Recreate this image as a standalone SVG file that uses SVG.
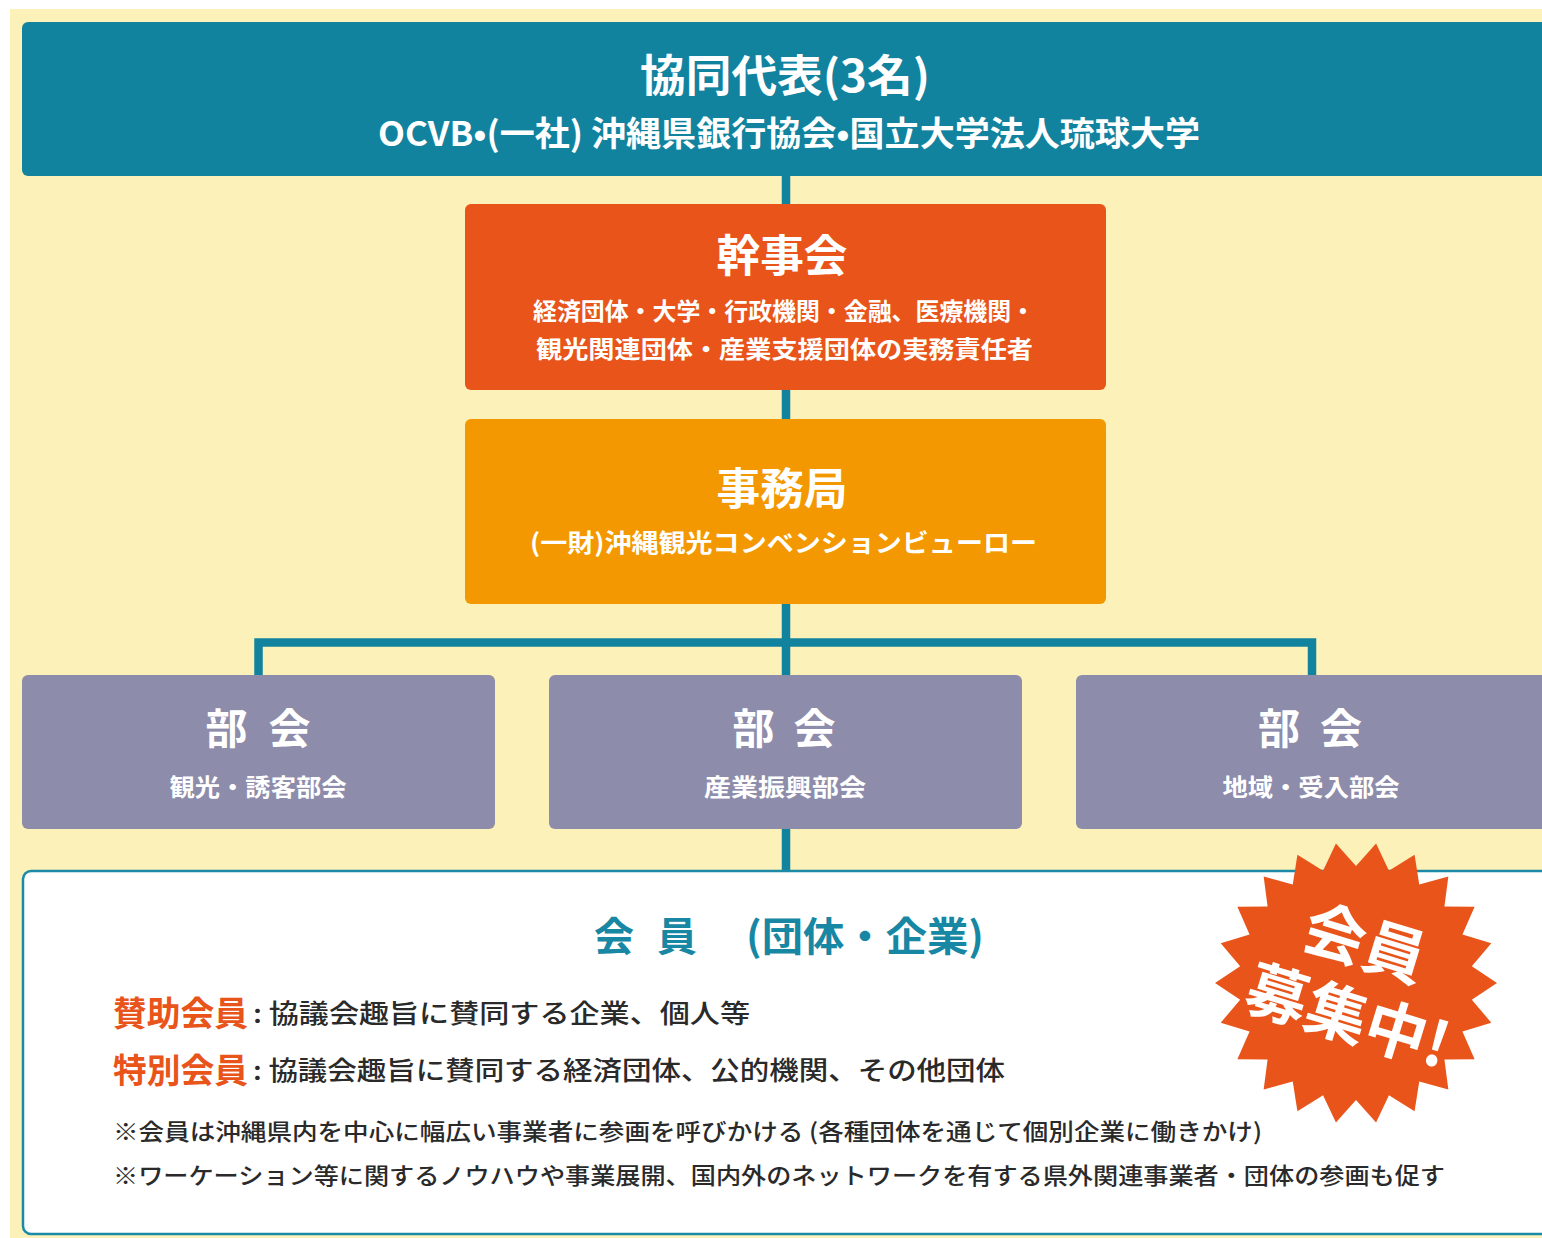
<svg xmlns="http://www.w3.org/2000/svg" width="1542" height="1238" viewBox="0 0 1542 1238">
  <style>
    .jp { font-family: "Noto Sans CJK JP", "Noto Sans", sans-serif; }
    .w { fill: #ffffff; font-weight: 700; }
    .h1 { font-size: 44px; }
    .sub { font-size: 24px; }
    .bk { font-size: 42px; }
    .conn { stroke: #11839F; stroke-width: 8.5; fill: none; stroke-linejoin: miter; stroke-linecap: butt; }
    .body { fill: #2a2a2a; font-weight: 500; }
    .lbl { fill: #E8541A; font-weight: 700; font-size: 34px; }
  </style>

  <rect x="0" y="0" width="1542" height="1238" fill="#ffffff"/>
  <rect x="10" y="9" width="1532" height="1229" fill="#FCF1B8"/>

  <g id="connectors">
    <line class="conn" x1="786" y1="175" x2="786" y2="205"/>
    <line class="conn" x1="786" y1="389" x2="786" y2="420"/>
    <line class="conn" x1="786" y1="603" x2="786" y2="676"/>
    <path class="conn" d="M258.5,676 V642.5 H1312 V676"/>
    <line class="conn" x1="786" y1="828" x2="786" y2="872"/>
  </g>

  <g id="node-representatives">
    <rect x="22" y="22" width="1540" height="154" rx="6" fill="#11839F"/>
    <text class="jp w h1" x="785" y="92" text-anchor="middle" textLength="290" lengthAdjust="spacingAndGlyphs">協同代表(3名)</text>
    <text class="jp w" x="789" y="146" font-size="34" text-anchor="middle" textLength="822" lengthAdjust="spacingAndGlyphs">OCVB•(一社) 沖縄県銀行協会•国立大学法人琉球大学</text>
  </g>

  <g id="node-kanjikai">
    <rect x="465" y="204" width="641" height="186" rx="6" fill="#E8541A"/>
    <text class="jp w h1" x="782" y="272" text-anchor="middle" textLength="131" lengthAdjust="spacingAndGlyphs">幹事会</text>
    <text class="jp w sub" x="784" y="320" text-anchor="middle" textLength="502" lengthAdjust="spacingAndGlyphs">経済団体・大学・行政機関・金融、医療機関・</text>
    <text class="jp w sub" x="784.5" y="358" text-anchor="middle" textLength="497" lengthAdjust="spacingAndGlyphs">観光関連団体・産業支援団体の実務責任者</text>
  </g>

  <g id="node-jimukyoku">
    <rect x="465" y="419" width="641" height="185" rx="6" fill="#F39800"/>
    <text class="jp w h1" x="782" y="505" text-anchor="middle" textLength="131" lengthAdjust="spacingAndGlyphs">事務局</text>
    <text class="jp w" x="783.5" y="552" font-size="25" text-anchor="middle" textLength="507" lengthAdjust="spacingAndGlyphs">(一財)沖縄観光コンベンションビューロー</text>
  </g>

  <g id="node-bukai-1">
    <rect x="22" y="675" width="473" height="154" rx="6" fill="#8E8CAB"/>
    <text class="jp w bk" x="258" y="744" text-anchor="middle" textLength="105" lengthAdjust="spacing">部 会</text>
    <text class="jp w sub" x="258" y="796" text-anchor="middle" textLength="177" lengthAdjust="spacingAndGlyphs">観光・誘客部会</text>
  </g>

  <g id="node-bukai-2">
    <rect x="549" y="675" width="473" height="154" rx="6" fill="#8E8CAB"/>
    <text class="jp w bk" x="784" y="744" text-anchor="middle" textLength="103" lengthAdjust="spacing">部 会</text>
    <text class="jp w sub" x="785" y="796" text-anchor="middle" textLength="162" lengthAdjust="spacingAndGlyphs">産業振興部会</text>
  </g>

  <g id="node-bukai-3">
    <rect x="1076" y="675" width="486" height="154" rx="6" fill="#8E8CAB"/>
    <text class="jp w bk" x="1310" y="744" text-anchor="middle" textLength="104" lengthAdjust="spacing">部 会</text>
    <text class="jp w sub" x="1311" y="796" text-anchor="middle" textLength="177" lengthAdjust="spacingAndGlyphs">地域・受入部会</text>
  </g>

  <g id="node-members">
    <rect x="23" y="871" width="1540" height="363" rx="8" fill="#ffffff" stroke="#1A8AA6" stroke-width="2.5"/>
    <text class="jp" font-size="40" font-weight="700" fill="#1787A3" y="951"><tspan x="594" textLength="103" lengthAdjust="spacing">会 員</tspan><tspan x="746" textLength="238" lengthAdjust="spacingAndGlyphs">(団体・企業)</tspan></text>
    <text class="jp lbl" x="113" y="1026" textLength="135" lengthAdjust="spacingAndGlyphs">賛助会員</text>
    <text class="jp body" x="253" y="1023" font-size="26" textLength="497" lengthAdjust="spacingAndGlyphs">: 協議会趣旨に賛同する企業、個人等</text>
    <text class="jp lbl" x="113" y="1083" textLength="135" lengthAdjust="spacingAndGlyphs">特別会員</text>
    <text class="jp body" x="253" y="1080" font-size="26" textLength="752" lengthAdjust="spacingAndGlyphs">: 協議会趣旨に賛同する経済団体、公的機関、その他団体</text>
    <text class="jp body" x="113" y="1140" font-size="23" font-weight="400" textLength="1149" lengthAdjust="spacingAndGlyphs">※会員は沖縄県内を中心に幅広い事業者に参画を呼びかける (各種団体を通じて個別企業に働きかけ)</text>
    <text class="jp body" x="113" y="1184" font-size="23" font-weight="400" textLength="1332" lengthAdjust="spacingAndGlyphs">※ワーケーション等に関するノウハウや事業展開、国内外のネットワークを有する県外関連事業者・団体の参画も促す</text>
  </g>

  <g id="badge-recruiting" transform="translate(1356,983)">
    <polygon fill="#E8541A" points="141,0 115.81,16.65 135.29,39.72 106.43,48.6 118.62,76.23 88.42,76.62 92.34,106.56 63.25,98.43 58.57,128.26 32.96,112.26 20.07,139.56 0,117 -20.07,139.56 -32.96,112.26 -58.57,128.26 -63.25,98.43 -92.34,106.56 -88.42,76.62 -118.62,76.23 -106.43,48.6 -135.29,39.72 -115.81,16.65 -141,0 -115.81,-16.65 -135.29,-39.72 -106.43,-48.6 -118.62,-76.23 -88.42,-76.62 -92.34,-106.56 -63.25,-98.43 -58.57,-128.26 -32.96,-112.26 -20.07,-139.56 0,-117 20.07,-139.56 32.96,-112.26 58.57,-128.26 63.25,-98.43 92.34,-106.56 88.42,-76.62 118.62,-76.23 106.43,-48.6 135.29,-39.72 115.81,-16.65"/>
    <g transform="rotate(17)">
      <text class="jp w" x="-3" y="-18" font-size="62" text-anchor="middle">会員</text>
      <text class="jp w" x="2" y="57" font-size="62" text-anchor="middle">募集中!</text>
    </g>
  </g>
</svg>
